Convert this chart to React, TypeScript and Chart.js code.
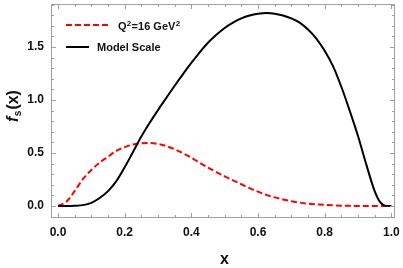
import { useEffect, useRef } from "react";
import { Chart, registerables } from "chart.js";

Chart.register(...registerables);

const xValues = [
  0, 0.025, 0.05, 0.075, 0.1, 0.125, 0.15, 0.175, 0.2, 0.225, 0.25, 0.275, 0.3, 0.325,
  0.35, 0.375, 0.4, 0.425, 0.45, 0.475, 0.5, 0.525, 0.55, 0.575, 0.6, 0.625, 0.65,
  0.675, 0.7, 0.725, 0.75, 0.775, 0.8, 0.825, 0.85, 0.875, 0.9, 0.925, 0.95, 0.9625,
  0.975, 0.9875, 1.0,
];

const q2Values = [
  0, 0.04, 0.14, 0.255, 0.34, 0.41, 0.465, 0.52, 0.555, 0.58, 0.592, 0.595, 0.585,
  0.565, 0.535, 0.498, 0.455, 0.408, 0.362, 0.32, 0.28, 0.242, 0.205, 0.168, 0.135,
  0.105, 0.081, 0.062, 0.045, 0.032, 0.022, 0.015, 0.01, 0.006, 0.003, 0.001, 0, 0, 0,
  0, 0, 0, 0,
];

const modelValues = [
  0, 0, 0.002, 0.008, 0.03, 0.075, 0.14, 0.235, 0.365, 0.51, 0.655, 0.785, 0.905, 1.02,
  1.135, 1.245, 1.35, 1.45, 1.54, 1.615, 1.68, 1.73, 1.77, 1.797, 1.813, 1.82, 1.815,
  1.797, 1.77, 1.73, 1.665, 1.58, 1.465, 1.32, 1.125, 0.9, 0.66, 0.39, 0.14, 0.055,
  0.012, 0.001, 0,
];

const xTicks = [0, 0.2, 0.4, 0.6, 0.8, 1.0];
const xMinorTicks = [0.05, 0.1, 0.15, 0.25, 0.3, 0.35, 0.45, 0.5, 0.55, 0.65, 0.7, 0.75, 0.85, 0.9, 0.95];
const yTicks = [0, 0.5, 1.0, 1.5];
const yMinorTicks = [-0.1, 0.1, 0.2, 0.3, 0.4, 0.6, 0.7, 0.8, 0.9, 1.1, 1.2, 1.3, 1.4, 1.6, 1.7, 1.8, 1.9];

const seriesLabels = ["Q\u00B2=16 GeV\u00B2", "Model Scale"];
const xTitle = "x";

const FONT = "'Liberation Sans', Arial, sans-serif";
const FRAME = "#a0a0a0";

// draws text, rendering "²" as a raised smaller "2"
function drawRich(ctx: any, text: string, x: number, y: number, size: number) {
  let cx = x;
  for (const part of text.split(/(\u00B2)/)) {
    if (!part) continue;
    if (part === "\u00B2") {
      ctx.font = `bold ${Math.round(size * 0.7)}px ${FONT}`;
      ctx.fillText("2", cx + 0.3, y - size * 0.38);
      cx += ctx.measureText("2").width + 0.6;
    } else {
      ctx.font = `bold ${size}px ${FONT}`;
      ctx.fillText(part, cx, y);
      cx += ctx.measureText(part).width;
    }
  }
}

const framePlugin = {
  id: "frameTicks",
  afterDraw(chart: any) {
    const { ctx, chartArea } = chart;
    const { left, right, top, bottom } = chartArea;
    const xs = chart.scales.x;
    const ys = chart.scales.y;
    ctx.save();
    ctx.strokeStyle = FRAME;
    ctx.lineWidth = 1;
    ctx.strokeRect(left + 0.5, top + 0.5, right - left, bottom - top);
    const major = 4.5;
    const minor = 2.5;
    ctx.beginPath();
    const vx = (v: number, len: number) => {
      const p = Math.round(xs.getPixelForValue(v)) + 0.5;
      ctx.moveTo(p, bottom + 0.5);
      ctx.lineTo(p, bottom + 0.5 - len);
      ctx.moveTo(p, top + 0.5);
      ctx.lineTo(p, top + 0.5 + len);
    };
    const vy = (v: number, len: number) => {
      const p = Math.round(ys.getPixelForValue(v)) + 0.5;
      ctx.moveTo(left + 0.5, p);
      ctx.lineTo(left + 0.5 + len, p);
      ctx.moveTo(right + 0.5, p);
      ctx.lineTo(right + 0.5 - len, p);
    };
    xTicks.forEach((v) => vx(v, major));
    xMinorTicks.forEach((v) => vx(v, minor));
    yTicks.forEach((v) => vy(v, major));
    yMinorTicks.forEach((v) => vy(v, minor));
    ctx.stroke();

    // legend
    ctx.lineWidth = 2;
    ctx.strokeStyle = "#ff0000";
    ctx.setLineDash([6, 3]);
    ctx.beginPath();
    ctx.moveTo(66, 25);
    ctx.lineTo(108, 25);
    ctx.stroke();
    ctx.setLineDash([]);
    ctx.strokeStyle = "#000";
    ctx.beginPath();
    ctx.moveTo(66, 47);
    ctx.lineTo(89, 47);
    ctx.stroke();
    ctx.fillStyle = "#111";
    ctx.textBaseline = "alphabetic";
    ctx.textAlign = "left";
    drawRich(ctx, seriesLabels[0], 118, 30, 11);
    drawRich(ctx, seriesLabels[1], 97, 51, 11);

    // x title
    ctx.font = `bold 16px ${FONT}`;
    ctx.textAlign = "center";
    ctx.textBaseline = "alphabetic";
    ctx.fillStyle = "#111";
    ctx.fillText(xTitle, (left + right) / 2 + 2, 264);

    // y title: f_s(x)
    ctx.save();
    ctx.translate(18, 122);
    ctx.rotate(-Math.PI / 2);
    ctx.textAlign = "left";
    ctx.textBaseline = "alphabetic";
    ctx.font = `italic bold 16px ${FONT}`;
    ctx.fillText("f", 0, 0);
    let w = ctx.measureText("f").width;
    ctx.font = `bold 10px ${FONT}`;
    ctx.fillText("s", w + 0.5, 3);
    w += ctx.measureText("s").width + 1.5;
    ctx.font = `bold 16px ${FONT}`;
    ctx.fillText("(x)", w, 0);
    ctx.restore();

    ctx.restore();
  },
};

export default function App() {
  const ref = useRef<HTMLCanvasElement>(null);
  useEffect(() => {
    document.body.style.margin = "0";
    if (!ref.current) return;
    const chart = new Chart(ref.current, {
      type: "line",
      data: {
        labels: xValues,
        datasets: [
          {
            label: seriesLabels[1],
            data: xValues.map((x, i) => ({ x, y: modelValues[i] })),
            borderColor: "#000000",
            borderWidth: 2,
            pointRadius: 0,
            cubicInterpolationMode: "monotone",
            fill: false,
          },
          {
            label: seriesLabels[0],
            data: xValues.map((x, i) => ({ x, y: q2Values[i] })),
            borderColor: "#ff0000",
            borderWidth: 2,
            borderDash: [6, 3],
            pointRadius: 0,
            cubicInterpolationMode: "monotone",
            fill: false,
          },
        ],
      },
      options: {
        animation: false,
        responsive: false,
        layout: { padding: { top: 4, right: 9, left: 0, bottom: 0 } },
        plugins: { legend: { display: false }, tooltip: { enabled: false } },
        scales: {
          x: {
            type: "linear",
            min: -0.021,
            max: 1.008,
            grid: { display: false, drawTicks: false },
            border: { display: false },
            afterBuildTicks: (s: any) => {
              s.ticks = xTicks.map((v) => ({ value: v }));
            },
            afterFit: (s: any) => {
              s.height = 51;
              s.paddingLeft = 0;
              s.paddingRight = 0;
            },
            ticks: {
              padding: 8,
              color: "#111",
              font: { family: FONT, size: 12, weight: "bold" },
              callback: (v: any) => Number(v).toFixed(1),
              maxRotation: 0,
            },
          },
          y: {
            type: "linear",
            min: -0.104,
            max: 1.906,
            grid: { display: false, drawTicks: false },
            border: { display: false },
            afterBuildTicks: (s: any) => {
              s.ticks = yTicks.map((v) => ({ value: v }));
            },
            afterFit: (s: any) => {
              s.width = 51;
              s.paddingTop = 0;
              s.paddingBottom = 0;
            },
            ticks: {
              padding: 7,
              color: "#111",
              font: { family: FONT, size: 12, weight: "bold" },
              callback: (v: any) => Number(v).toFixed(1),
            },
          },
        },
      },
      plugins: [framePlugin],
    } as any);
    return () => chart.destroy();
  }, []);
  return <canvas ref={ref} width={403} height={268} style={{ display: "block" }} />;
}
